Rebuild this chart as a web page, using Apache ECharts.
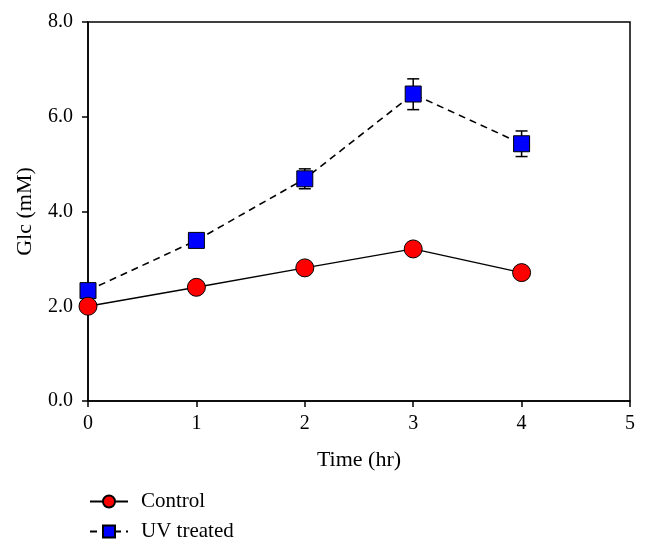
<!DOCTYPE html>
<html><head><meta charset="utf-8">
<script src="https://cdn.jsdelivr.net/npm/echarts@6/dist/echarts.min.js"></script>
<style>html,body{margin:0;padding:0;background:#fff}#c{width:648px;height:553px}</style>
</head><body><div id="c"></div>
<script>
const times = [0, 1, 2, 3, 4];
const controlValues = [2.0, 2.4, 2.81, 3.21, 2.71];
const uvValues = [2.33, 3.39, 4.69, 6.48, 5.43];
const uvErrLow = [2.33, 3.39, 4.48, 6.15, 5.16];
const uvErrHigh = [2.33, 3.39, 4.9, 6.8, 5.7];
const xTicks = [0, 1, 2, 3, 4, 5];
const yTicks = [0, 2, 4, 6, 8];

const font = 'Liberation Serif';
const chart = echarts.init(document.getElementById('c'));
const errData = times.map((t, i) => [t, uvErrLow[i], uvErrHigh[i]]);
chart.setOption({
  animation: false,
  backgroundColor: '#fff',
  grid: {left: 88, right: 18, top: 22, bottom: 152, show: true, borderColor: '#000', borderWidth: 1.5, backgroundColor: 'transparent'},
  xAxis: {
    type: 'value', min: 0, max: 5, interval: 1,
    name: 'Time (hr)', nameLocation: 'middle', nameGap: 48,
    nameTextStyle: {fontFamily: font, fontSize: 22, color: '#000'},
    axisLine: {show: true, onZero: false, lineStyle: {color: '#000', width: 1.5}},
    axisTick: {show: true, inside: false, length: 6, lineStyle: {color: '#000', width: 1.5}},
    axisLabel: {fontFamily: font, fontSize: 20, color: '#000', margin: 13},
    splitLine: {show: false}
  },
  yAxis: {
    type: 'value', min: 0, max: 8, interval: 2,
    name: 'Glc (mM)', nameLocation: 'middle', nameGap: 52,
    nameTextStyle: {fontFamily: font, fontSize: 22, color: '#000'},
    axisLine: {show: true, onZero: false, lineStyle: {color: '#000', width: 1.5}},
    axisTick: {show: true, inside: false, length: 6, lineStyle: {color: '#000', width: 1.5}},
    axisLabel: {fontFamily: font, fontSize: 20, color: '#000', margin: 15, formatter: v => v.toFixed(1)},
    splitLine: {show: false}
  },
  legend: {
    orient: 'vertical', left: 89, top: 491, padding: 0, itemGap: 9, itemWidth: 38, itemHeight: 15,
    textStyle: {fontFamily: font, fontSize: 21, color: '#000', padding: [0, 0, 0, 8]},
    data: ['Control', 'UV treated']
  },
  series: [
    {
      name: 'UV treated err', type: 'custom', z: 1,
      data: errData,
      renderItem: function (params, api) {
        const x = api.value(0);
        const lo = api.coord([x, api.value(1)]);
        const hi = api.coord([x, api.value(2)]);
        const w = 6;
        const st = {stroke: '#000', lineWidth: 1.5};
        return {type: 'group', children: [
          {type: 'line', shape: {x1: lo[0], y1: lo[1], x2: hi[0], y2: hi[1]}, style: st},
          {type: 'line', shape: {x1: lo[0]-w, y1: lo[1], x2: lo[0]+w, y2: lo[1]}, style: st},
          {type: 'line', shape: {x1: hi[0]-w, y1: hi[1], x2: hi[0]+w, y2: hi[1]}, style: st}
        ]};
      }
    },
    {
      name: 'Control', type: 'line', z: 3,
      data: times.map((t, i) => [t, controlValues[i]]),
      symbol: 'circle', symbolSize: 18,
      lineStyle: {color: '#000', width: 1.4, type: 'solid'},
      itemStyle: {color: '#ff0000', borderColor: '#000', borderWidth: 1},
      clip: false
    },
    {
      name: 'UV treated', type: 'line', z: 2,
      data: times.map((t, i) => [t, uvValues[i]]),
      symbol: 'rect', symbolSize: 16,
      lineStyle: {color: '#000', width: 1.6, type: [7, 5]},
      itemStyle: {color: '#0000ff', borderColor: '#000', borderWidth: 1},
      clip: false
    }
  ]
});
</script></body></html>
